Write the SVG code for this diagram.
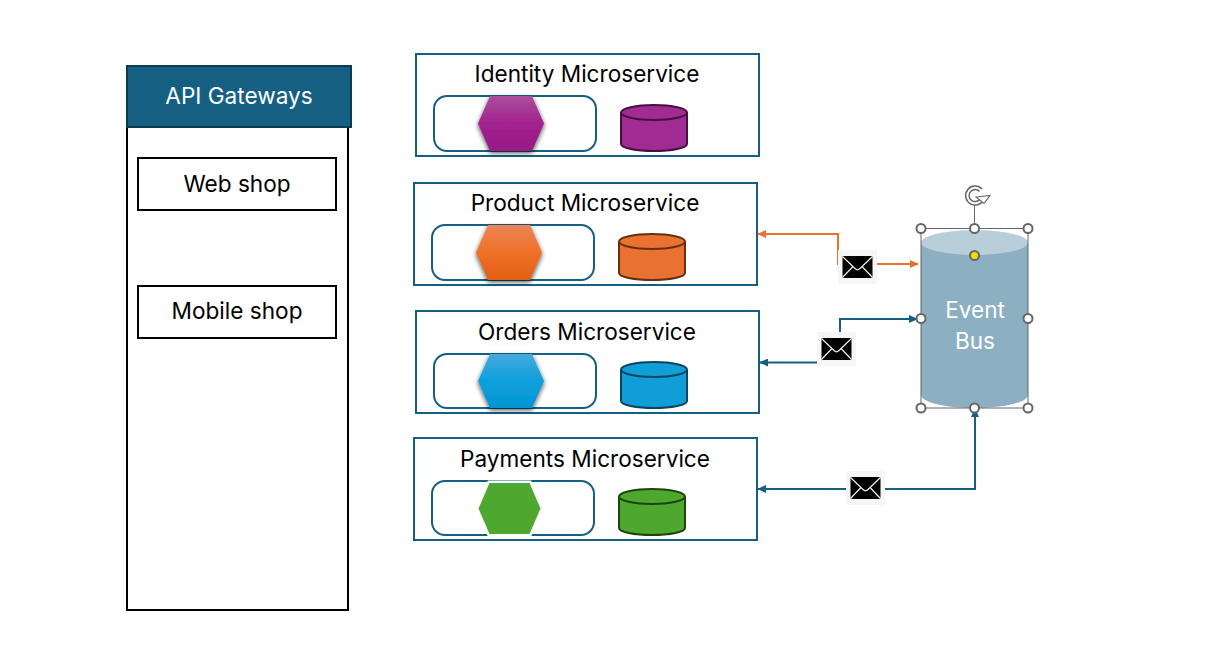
<svg xmlns="http://www.w3.org/2000/svg" width="1217" height="654" viewBox="0 0 1217 654">
<style>
text{font-family:"Inter","Noto Sans","Liberation Sans",sans-serif;text-anchor:middle}
.t{font-size:22.600px;fill:#000}
.w{font-size:22.600px;fill:#fff}
.box{fill:#fff;stroke:#156082;stroke-width:2}
.pill{fill:#fff;stroke:#156082;stroke-width:2}
.blk{fill:#fff;stroke:#000;stroke-width:2}
.blue{fill:none;stroke:#156082;stroke-width:2}
.or{fill:none;stroke:#e97132;stroke-width:2}
.h{fill:#fff;stroke:#666;stroke-width:2}
.tile{fill:#f6f6f6}
.env{fill:#000}
.envl{fill:none;stroke:#f2efe6;stroke-width:1.2}
</style>
<defs>
<filter id="sh" x="-20%" y="-20%" width="140%" height="140%"><feGaussianBlur in="SourceAlpha" stdDeviation="2.5"/><feOffset dy="1.500"/><feComponentTransfer><feFuncA type="linear" slope=".7"/></feComponentTransfer><feMerge><feMergeNode/><feMergeNode in="SourceGraphic"/></feMerge></filter>
<linearGradient id="gp" x1="0" y1="0" x2="0" y2="1"><stop offset="0" stop-color="#a9509c"/><stop offset=".5" stop-color="#a3218f"/><stop offset="1" stop-color="#961a85"/></linearGradient>
<linearGradient id="go" x1="0" y1="0" x2="0" y2="1"><stop offset="0" stop-color="#ec8557"/><stop offset=".5" stop-color="#ef7028"/><stop offset="1" stop-color="#e25f14"/></linearGradient>
<linearGradient id="gb" x1="0" y1="0" x2="0" y2="1"><stop offset="0" stop-color="#45a9de"/><stop offset=".5" stop-color="#0ea0dc"/><stop offset="1" stop-color="#0095d2"/></linearGradient>
<marker id="ao" markerWidth="9" markerHeight="8" refX="8" refY="4" orient="auto" markerUnits="userSpaceOnUse"><path d="M0 0L9 4L0 8z" fill="#e97132"/></marker>
<marker id="ab" markerWidth="9" markerHeight="8" refX="8" refY="4" orient="auto" markerUnits="userSpaceOnUse"><path d="M0 0L9 4L0 8z" fill="#156082"/></marker>
<symbol id="mail" viewBox="0 0 30 22" overflow="visible"><rect class="env" width="30" height="22" rx="1"/><path class="envl" d="M0 .5L12.5 12.5Q15 15 17.5 12.5L30 .5M0 21.5L10.5 10.5M30 21.5L19.5 10.5"/></symbol>
</defs>

<g id="api-gateways">
<rect x="127" y="66" width="221" height="544" fill="#fff" stroke="#000" stroke-width="2"/>
<rect x="127" y="66" width="224" height="61" fill="#156082" stroke="#0d3a4f" stroke-width="2"/>
<text class="w" x="239" y="104">API Gateways</text>
</g>
<g id="web-shop"><rect class="blk" x="138" y="158" width="198" height="52"/><text class="t" x="237" y="192">Web shop</text></g>
<g id="mobile-shop"><rect class="blk" x="138" y="286" width="198" height="52"/><text class="t" x="237" y="319">Mobile shop</text></g>

<g id="identity">
<rect class="box" x="416" y="54" width="343" height="102"/>
<text class="t" x="587" y="82">Identity Microservice</text>
<rect class="pill" x="434" y="96" width="162" height="55" rx="13"/>
<path d="M490 96H532L544 123.500L532 151H490L478 123.500Z" fill="url(#gp)" filter="url(#sh)"/>
<path d="M621 112.500V144C621 148 636 151 654 151S687 148 687 144V112.500" fill="#a02b93" stroke="#45103f" stroke-width="2"/>
<ellipse cx="654" cy="112.500" rx="33" ry="7.500" fill="#a02b93" stroke="#45103f" stroke-width="2"/>
</g>
<g id="product">
<rect class="box" x="414" y="183" width="343" height="102"/>
<text class="t" x="585" y="211">Product Microservice</text>
<rect class="pill" x="432" y="225" width="162" height="55" rx="13"/>
<path d="M488 225H530L542 252.500L530 280H488L476 252.500Z" fill="url(#go)" filter="url(#sh)"/>
<path d="M619 241.500V273C619 277 634 280 652 280S685 277 685 273V241.500" fill="#e97132" stroke="#66300f" stroke-width="2"/>
<ellipse cx="652" cy="241.500" rx="33" ry="7.500" fill="#e97132" stroke="#66300f" stroke-width="2"/>
</g>
<g id="orders">
<rect class="box" x="416" y="311" width="343" height="102"/>
<text class="t" x="587" y="340">Orders Microservice</text>
<rect class="pill" x="434" y="354" width="162" height="54" rx="13"/>
<path d="M490 354H532L544 381L532 408H490L478 381Z" fill="url(#gb)" filter="url(#sh)"/>
<path d="M621 369.500V401C621 405 636 408 654 408S687 405 687 401V369.500" fill="#0f9ed5" stroke="#0a4560" stroke-width="2"/>
<ellipse cx="654" cy="369.500" rx="33" ry="7.500" fill="#0f9ed5" stroke="#0a4560" stroke-width="2"/>
</g>
<g id="payments">
<rect class="box" x="414" y="438" width="343" height="102"/>
<text class="t" x="585" y="467">Payments Microservice</text>
<rect class="pill" x="432" y="481" width="162" height="54" rx="13"/>
<path d="M489.500 483H529.500L540.500 508.500L529.500 534H489.500L478.500 508.500Z" fill="#4ea72e" stroke="#fff" stroke-width="5" paint-order="stroke"/>
<path d="M619 496.500V528C619 532 634 535 652 535S685 532 685 528V496.500" fill="#4ea72e" stroke="#1e4410" stroke-width="2"/>
<ellipse cx="652" cy="496.500" rx="33" ry="7.500" fill="#4ea72e" stroke="#1e4410" stroke-width="2"/>
</g>

<g id="event-bus">
<path d="M921 242.500V395C921 402 945 408 975 408S1028 402 1028 395V242.500Z" fill="#8cafc1"/>
<ellipse cx="974.500" cy="242.500" rx="53.500" ry="12.500" fill="#b8cfda"/>
<text class="w" x="975" y="318">Event</text>
<text class="w" x="975" y="349">Bus</text>
<rect x="921" y="228.500" width="107" height="179.500" fill="none" stroke="#666" stroke-width="1"/>
<path d="M974.500 205V228" stroke="#666" fill="none"/>
<path d="M982 189A9.500 9.500 0 1 0 984 199" fill="none" stroke="#666" stroke-width="1.500"/>
<path d="M979.500 191.500A6 6 0 1 0 980 199" fill="none" stroke="#666" stroke-width="1.500"/>
<path d="M976 197L990 195.500L984 203.500Z" fill="#fff" stroke="#666" stroke-width="1.200"/>
<circle class="h" cx="921" cy="228.500" r="4.500"/><circle class="h" cx="974.500" cy="228.500" r="4.500"/><circle class="h" cx="1028" cy="228.500" r="4.500"/>
<circle class="h" cx="1028" cy="318.500" r="4.500"/>
<circle class="h" cx="921" cy="408" r="4.500"/><circle class="h" cx="1028" cy="408" r="4.500"/>
<circle cx="974.500" cy="255.500" r="4.500" fill="#ffd800" stroke="#666" stroke-width="2"/>
</g>

<g id="connectors">
<path class="or" d="M838 265V234H758" marker-end="url(#ao)"/>
<path class="or" d="M877 264H918" marker-end="url(#ao)"/>
<path class="blue" d="M840 332V319H917" marker-end="url(#ab)"/>
<path class="blue" d="M817 362.500H760" marker-end="url(#ab)"/>
<path class="blue" d="M885 489H975V409" marker-end="url(#ab)"/>
<path class="blue" d="M846 489H758" marker-end="url(#ab)"/>
</g>
<circle class="h" cx="921" cy="318.500" r="4.500"/><circle class="h" cx="974.500" cy="408" r="4.500"/>

<g id="message-1"><rect class="tile" x="838" y="250" width="39" height="34"/><use href="#mail" x="842.500" y="256" width="30" height="22"/></g>
<g id="message-2"><rect class="tile" x="817" y="332" width="39" height="34"/><use href="#mail" x="821.500" y="338" width="30" height="22"/></g>
<g id="message-3"><rect class="tile" x="846" y="471" width="39" height="34"/><use href="#mail" x="850.500" y="477" width="30" height="22"/></g>
</svg>
